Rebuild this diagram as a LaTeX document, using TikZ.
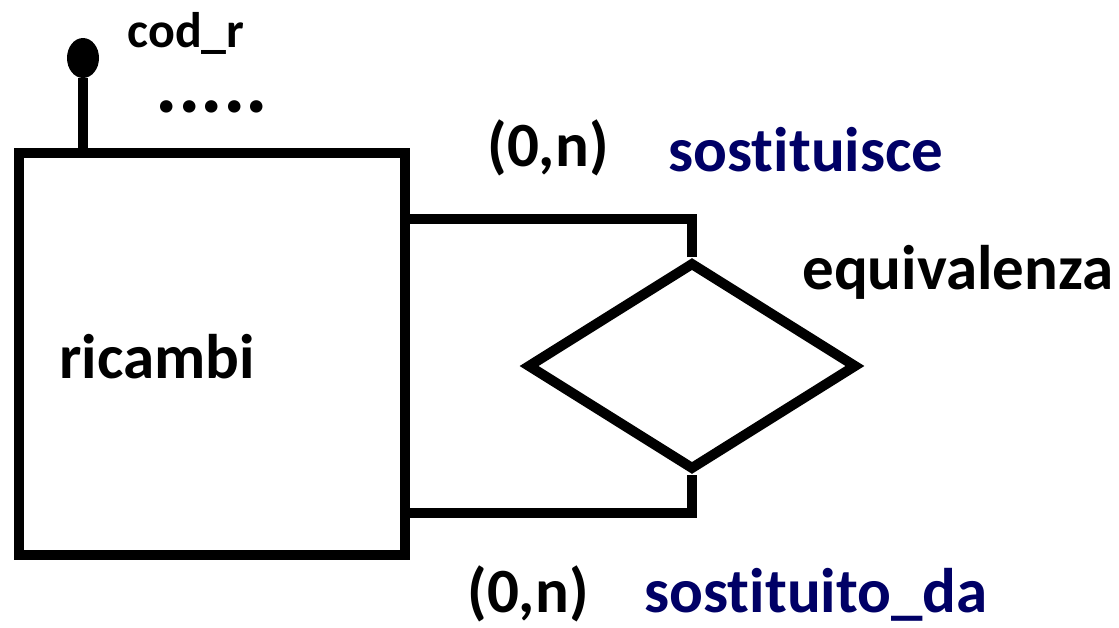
\documentclass[tikz,border=0pt]{standalone}
\usepackage{fontspec}
\setmainfont{Carlito}[Ligatures=NoCommon]
\usetikzlibrary{shapes.geometric}
\definecolor{navy}{RGB}{0,0,102}
\tikzset{
  ent/.style={draw, line width=10pt, line join=miter, rectangle, inner sep=0pt, minimum width=386pt, minimum height=402pt},
  rel/.style={draw, line width=10pt, line join=miter, diamond, inner sep=0pt, minimum width=330pt, minimum height=208pt},
  conn/.style={line width=10pt, line join=miter},
  big/.style={font=\fontsize{63}{70}\selectfont\bfseries, inner sep=0pt},
  small/.style={font=\fontsize{50}{56}\selectfont\bfseries, inner sep=0pt},
  role/.style={big, text=navy},
}
\begin{document}
\begin{tikzpicture}[x=1pt,y=-1pt]
\useasboundingbox (0,0) rectangle (1119,627);
\node[ent] (ricambi) at (212,354) {};
\node[big] (ricambilbl) at (157,357) {ricambi};
\node[rel] (equiv) at (692,366) {};
\node[ellipse, fill=black, inner sep=0pt, minimum width=32pt, minimum height=40pt] (codr) at (83,58) {};
\draw[conn] (codr.south) -- (codr.south |- ricambi.north);
\node[small] (codrlbl) at (186,33) {cod\_r};
\node[font=\fontsize{84}{90}\selectfont\bfseries, inner sep=0pt, text height=12pt, text depth=0pt] (dots) at (212,106) {.....};
\coordinate (topc) at (692,219);
\coordinate (botc) at (692,513);
\draw[conn] (equiv.north) -- (topc) -- (ricambi.east |- topc);
\draw[conn] (equiv.south) -- (botc) -- (ricambi.east |- botc);
\node[big] (card1) at (548,148) {(0,n)};
\node[role] (sost) at (806,150) {sostituisce};
\node[big] (equivlbl) at (958,272) {equivalenza};
\node[big] (card2) at (528,594) {(0,n)};
\node[role] (sostda) at (816,595) {sostituito\_da};
\end{tikzpicture}
\end{document}
